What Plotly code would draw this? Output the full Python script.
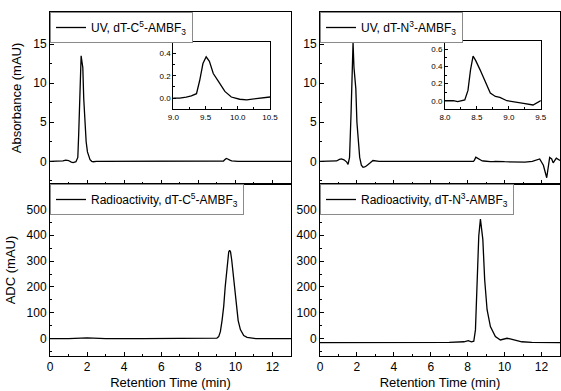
import plotly.graph_objects as go

# ---------------- data ----------------
uv_c5_t = [0, 0.5, 0.7, 0.85, 1.0, 1.15, 1.25, 1.4, 1.5, 1.55, 1.6, 1.65, 1.68, 1.72,
           1.77, 1.82, 1.89, 1.95, 2.02, 2.1, 2.16, 2.25, 2.34, 2.5, 3.0, 4, 5, 6, 7, 8,
           9.0, 9.1, 9.2, 9.28, 9.36, 9.41, 9.46, 9.51, 9.56, 9.62, 9.70, 9.80, 9.90,
           10.03, 10.14, 10.29, 10.5, 11, 12, 13]
uv_c5_y = [0, 0, 0.05, 0.15, 0.1, -0.1, -0.17, -0.05, 0.5, 3.6, 8.0, 12.5, 13.5, 12.8,
           12.0, 8.0, 4.4, 2.5, 1.2, 0.5, 0.2, 0.0, -0.05, 0.0, 0.0, 0, 0, 0, 0, 0,
           0.0, 0.0, 0.01, 0.02, 0.04, 0.16, 0.31, 0.37, 0.33, 0.22, 0.15, 0.06, 0.01,
           -0.01, -0.015, -0.005, 0.01, 0.0, 0.0, 0.0]

uv_n3_t = [0, 0.5, 0.9, 1.05, 1.16, 1.3, 1.45, 1.52, 1.6, 1.68, 1.74, 1.79, 1.84, 1.9,
           1.94, 2.0, 2.08, 2.15, 2.24, 2.33, 2.42, 2.51, 2.69, 2.87, 3.2, 4, 5, 6, 7,
           8.0, 8.13, 8.2, 8.31, 8.36, 8.40, 8.44, 8.48, 8.55, 8.63, 8.71, 8.79, 8.86,
           8.97, 9.07, 9.23, 9.38, 9.43, 9.5, 10, 10.5, 11.1, 11.5, 11.9, 12.1, 12.28,
           12.44, 12.55, 12.63, 12.8, 13]
uv_n3_y = [0, 0, 0.05, 0.25, 0.3, 0.2, -0.1, -0.4, 0.5, 6.0, 12.0, 15.2, 12.0, 9.5,
           9.3, 5.0, 2.7, 0.5, -0.5, -0.75, -0.7, -0.6, -0.26, 0.1, 0, 0, 0, 0, 0,
           0.0, 0.0, -0.01, 0.01, 0.12, 0.36, 0.52, 0.47, 0.36, 0.22, 0.09, 0.05, 0.04,
           0.0, -0.01, -0.03, -0.05, -0.03, 0.0, -0.05, -0.05, -0.1, 0.0, 0.3, -0.5, -2.1,
           0.5, 0.3, -0.2, 0.4, 0.1]

rad_c5_t = [0, 1, 2, 3, 5, 7, 8.5, 9.0, 9.1, 9.19, 9.28, 9.37, 9.45, 9.51, 9.58, 9.64,
            9.69, 9.74, 9.80, 9.87, 9.95, 10.05, 10.15, 10.27, 10.45, 10.63, 10.9, 11.1,
            12, 13]
rad_c5_y = [0, 0, 3, 0, 0, 0, 0, 2, 8, 27, 70, 125, 200, 254, 305, 335,
            342, 335, 305, 254, 190, 125, 70, 35, 12, 5, 1, 0,
            0, 0]

rad_n3_t = [0, 1, 2, 3, 4, 5, 6, 7, 7.8, 8.03, 8.2, 8.33, 8.42, 8.51, 8.60, 8.69, 8.76,
            8.82, 8.92, 9.05, 9.23, 9.50, 9.77, 9.95, 10.13, 10.3, 10.48, 10.93, 11.47,
            12, 13]
rad_n3_y = [-15, -15, -14, -15, -15, -16, -15, -14, -12, -8, -12, -10, 34, 202, 397, 462,
            430, 384, 228, 112, 47, 8, -5, -2, 1.5, -1, -5, -12, -14, -15, -15]

names = ["UV, dT-C<sup>5</sup>-AMBF<sub>3</sub>",
         "UV, dT-N<sup>3</sup>-AMBF<sub>3</sub>",
         "Radioactivity, dT-C<sup>5</sup>-AMBF<sub>3</sub>",
         "Radioactivity, dT-N<sup>3</sup>-AMBF<sub>3</sub>"]

x_title = "Retention Time (min)"
uv_title = "Absorbance (mAU)"
rad_title = "ADC (mAU)"

# ---------------- layout geometry ----------------
W, H = 561, 391
ML, MR, MT, MB = 50, 1, 12, 35
PW, PH = W - ML - MR, H - MT - MB


def fx(p):
    return (p - ML) / PW


def fy(p):
    return (H - MB - p) / PH


left_dom = [0, fx(291)]
right_dom = [fx(320), 1]
top_dom = [fy(184), 1]
bot_dom = [0, fy(184)]

FONT = "Liberation Sans, Arial, sans-serif"
LINE = dict(color="black", width=1.3)

fig = go.Figure()

series = [(uv_c5_t, uv_c5_y, "x", "y", "legend"),
          (uv_n3_t, uv_n3_y, "x2", "y2", "legend2"),
          (rad_c5_t, rad_c5_y, "x3", "y3", "legend3"),
          (rad_n3_t, rad_n3_y, "x4", "y4", "legend4")]
for (t, v, xa, ya, lg), nm in zip(series, names):
    fig.add_trace(go.Scatter(x=t, y=v, mode="lines", line=LINE, name=nm,
                             xaxis=xa, yaxis=ya, legend=lg, showlegend=True))

# insets reuse the UV series
fig.add_trace(go.Scatter(x=uv_c5_t, y=uv_c5_y, mode="lines", line=LINE,
                         xaxis="x5", yaxis="y5", showlegend=False))
fig.add_trace(go.Scatter(x=uv_n3_t, y=uv_n3_y, mode="lines", line=LINE,
                         xaxis="x6", yaxis="y6", showlegend=False))


def ax(**kw):
    base = dict(showline=True, linecolor="black", linewidth=1, mirror=True,
                ticks="inside", ticklen=4, tickwidth=1, tickcolor="black",
                showgrid=False, zeroline=False, automargin=False,
                tickfont=dict(size=12, color="black", family=FONT))
    base.update(kw)
    return base


def minor(d, ln=2):
    return dict(ticks="inside", ticklen=ln, tickwidth=1, tickcolor="black", dtick=d)


tfont = dict(size=13, color="black", family=FONT)
ifont = dict(size=8, color="black", family=FONT)

fig.update_layout(
    width=W, height=H, template="none",
    margin=dict(l=ML, r=MR, t=MT, b=MB, autoexpand=False),
    paper_bgcolor="white", plot_bgcolor="white",
    font=dict(family=FONT, color="black", size=12),
    xaxis=ax(domain=left_dom, anchor="y", range=[0, 13], dtick=2, tick0=0,
             minor=minor(1), showticklabels=False),
    yaxis=ax(domain=top_dom, anchor="x", range=[-2.9, 19.1], dtick=5, tick0=0,
             minor=minor(2.5), title=dict(text=uv_title, font=tfont, standoff=8)),
    xaxis2=ax(domain=right_dom, anchor="y2", range=[0, 13], dtick=2, tick0=0,
              minor=minor(1), showticklabels=False),
    yaxis2=ax(domain=top_dom, anchor="x2", range=[-2.9, 19.1], dtick=5, tick0=0,
              minor=minor(2.5)),
    xaxis3=ax(domain=left_dom, anchor="y3", range=[0, 13], dtick=2, tick0=0,
              minor=minor(1), title=dict(text=x_title, font=tfont, standoff=4)),
    yaxis3=ax(domain=bot_dom, anchor="x3", range=[-67, 598], dtick=100, tick0=0,
              minor=minor(50), title=dict(text=rad_title, font=tfont, standoff=8)),
    xaxis4=ax(domain=right_dom, anchor="y4", range=[0, 13], dtick=2, tick0=0,
              minor=minor(1), title=dict(text=x_title, font=tfont, standoff=4)),
    yaxis4=ax(domain=bot_dom, anchor="x4", range=[-67, 598], dtick=100, tick0=0,
              minor=minor(50)),
    xaxis5=ax(domain=[fx(173.3), fx(270)], anchor="y5", range=[9, 10.5], dtick=0.5,
              tick0=0, tickformat=".1f", ticklen=3, minor=minor(0.25, 2), tickfont=ifont),
    yaxis5=ax(domain=[fy(109.3), fy(42.3)], anchor="x5", range=[-0.1, 0.5], dtick=0.2,
              tick0=0, tickformat=".1f", ticklen=3, minor=minor(0.1, 2), tickfont=ifont),
    xaxis6=ax(domain=[fx(445), fx(540.7)], anchor="y6", range=[8, 9.5], dtick=0.5,
              tick0=0, tickformat=".1f", ticklen=3, minor=minor(0.25, 2), tickfont=ifont),
    yaxis6=ax(domain=[fy(109.3), fy(40.7)], anchor="x6", range=[-0.1, 0.7], dtick=0.2,
              tick0=0, tickformat=".1f", ticklen=3, minor=minor(0.1, 2), tickfont=ifont),
)

leg = dict(xanchor="left", yanchor="top", bordercolor="#8a8a8a", borderwidth=1,
           bgcolor="white", font=dict(size=12, color="black", family=FONT),
           itemwidth=30, tracegroupgap=0)
fig.update_layout(
    legend=dict(leg, x=left_dom[0], y=top_dom[1]),
    legend2=dict(leg, x=right_dom[0], y=top_dom[1]),
    legend3=dict(leg, x=left_dom[0], y=bot_dom[1]),
    legend4=dict(leg, x=right_dom[0], y=bot_dom[1]),
)

fig.write_html("out.html", config={"displayModeBar": False},
               post_script="document.body.style.margin='0';document.body.style.overflow='hidden';")
